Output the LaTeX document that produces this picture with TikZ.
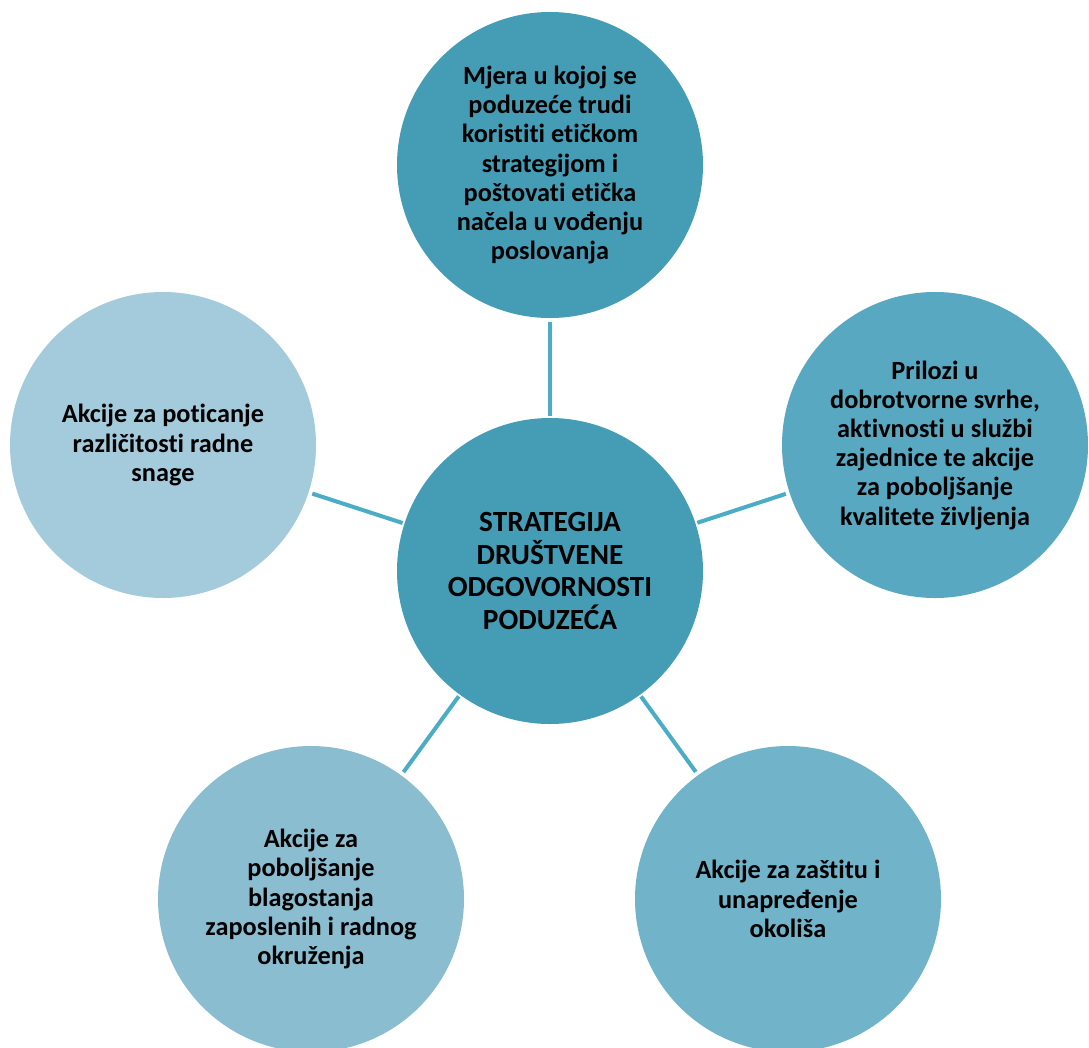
\documentclass[tikz,border=0pt]{standalone}
\usepackage{fontspec}
\setmainfont{Carlito}[Ligatures={NoCommon}]
\definecolor{cTop}{HTML}{459CB5}
\definecolor{cCen}{HTML}{459CB5}
\definecolor{cRight}{HTML}{58A8C1}
\definecolor{cBR}{HTML}{71B3C9}
\definecolor{cBL}{HTML}{8ABDD0}
\definecolor{cLeft}{HTML}{A3CBDB}
\definecolor{cLine}{HTML}{4BACC6}
\begin{document}
\begin{tikzpicture}[x=1pt,y=-1pt,
  bubble/.style={circle,draw=none,minimum size=306pt,inner sep=0pt,outer sep=0pt,
    align=center,font=\fontsize{26.3}{29.2}\selectfont\bfseries,text=black},
  hub/.style={bubble,font=\fontsize{29.3}{32.5}\selectfont\bfseries},
  conn/.style={draw=cLine,line width=4pt,shorten <=4pt,shorten >=2pt}]
\useasboundingbox (0,0) rectangle (1089,1047);
\node[hub,fill=cCen] (c) at (550,571) {STRATEGIJA\\DRUŠTVENE\\ODGOVORNOSTI\\PODUZEĆA};
\node[bubble,fill=cTop] (t) at (550,165) {Mjera u kojoj se\\poduzeće trudi\\koristiti etičkom\\strategijom i\\poštovati etička\\načela u vođenju\\poslovanja};
\node[bubble,fill=cRight] (r) at (935,445) {Prilozi u\\dobrotvorne svrhe,\\aktivnosti u službi\\zajednice te akcije\\za poboljšanje\\kvalitete življenja};
\node[bubble,fill=cLeft] (l) at (163,445) {Akcije za poticanje\\različitosti radne\\snage};
\node[bubble,fill=cBL] (bl) at (311,899) {Akcije za\\poboljšanje\\blagostanja\\zaposlenih i radnog\\okruženja};
\node[bubble,fill=cBR] (br) at (788,899) {Akcije za zaštitu i\\unapređenje\\okoliša};
\draw[conn] (t) -- (c);
\draw[conn] (r) -- (c);
\draw[conn] (l) -- (c);
\draw[conn] (bl) -- (c);
\draw[conn] (br) -- (c);
\end{tikzpicture}
\end{document}
